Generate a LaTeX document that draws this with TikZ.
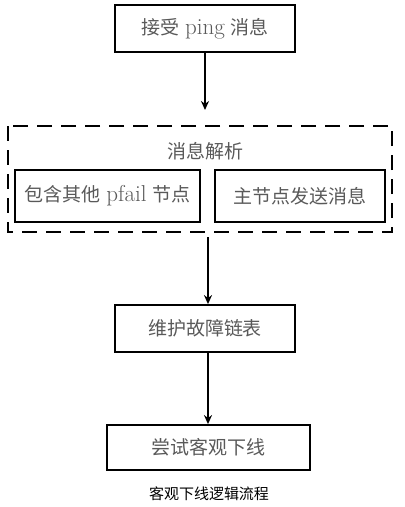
\documentclass[tikz,border=0pt]{standalone}
\usepackage{fontspec}
\newfontfamily\cjk{Noto Sans CJK SC}
\newcommand\latword[1]{{\fontsize{23}{24}\selectfont #1}}
\usetikzlibrary{positioning,arrows.meta}

\tikzset{
  stepbox/.style={draw=black,line width=1.8pt,minimum height=47pt,
    text=black!65,font=\fontsize{19}{22}\selectfont},
  groupbox/.style={draw=black,line width=2.6pt,dash pattern=on 15pt off 9pt},
  flow/.style={-{Stealth[length=9pt,width=8pt]},line width=2.2pt}
}

\begin{document}
\begin{tikzpicture}[x=1pt,y=-1pt]
\useasboundingbox (0,0) rectangle (405,507);
\node[stepbox,minimum width=180pt] (recv) at (205,28.5) {{\cjk 接受} \latword{ping} {\cjk 消息}};
\draw[groupbox] (8,126) rectangle (392,232);
\node[text=black!65,font=\fontsize{19}{22}\selectfont] (parse) at (205,151) {\cjk 消息解析};
\node[stepbox,minimum width=185pt,minimum height=52pt] (pfail) at (107.5,196) {{\cjk 包含其他} \latword{pfail} {\cjk 节点}};
\node[stepbox,minimum width=170pt,minimum height=52pt] (master) at (300,196) {\cjk 主节点发送消息};
\coordinate (parsetop) at (205,110);
\coordinate (parsebot) at (208,237);
\node[stepbox,minimum width=180pt] (chain) at (205,328.5) {\cjk 维护故障链表};
\node[stepbox,minimum width=203pt,minimum height=45pt] (fail) at (208.5,447.5) {\cjk 尝试客观下线};
\node[font=\fontsize{15}{18}\selectfont] (caption) at (209,494) {\cjk 客观下线逻辑流程};
\draw[flow] (recv) -- (parsetop);
\draw[flow] (parsebot) -- (chain.north -| parsebot);
\draw[flow] (chain.south -| parsebot) -- (fail.north -| parsebot);
\end{tikzpicture}
\end{document}
